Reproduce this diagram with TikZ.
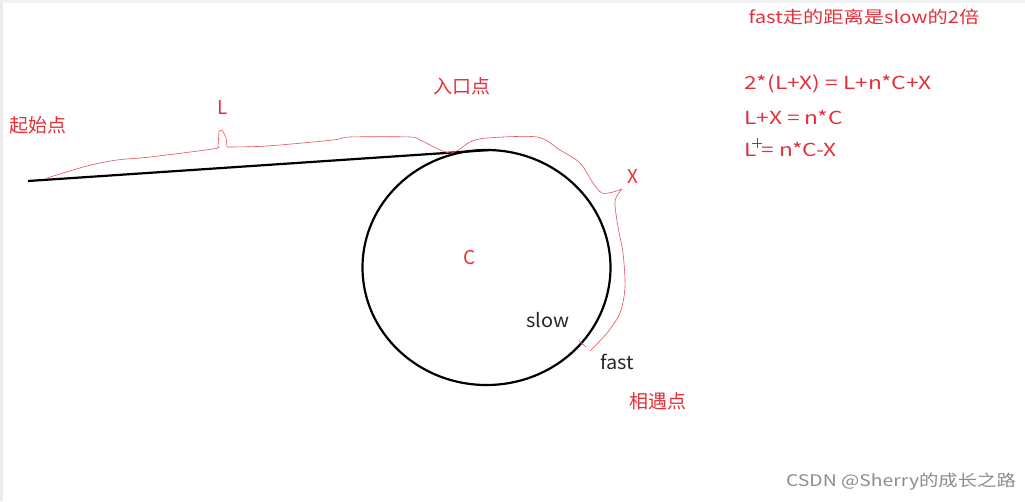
\documentclass[tikz,border=0pt]{standalone}
\usepackage{fontspec}
\setmainfont{Noto Sans CJK SC}
\usepackage{xcolor}
\usepackage{tikz}
\usetikzlibrary{positioning}

\definecolor{penred}{RGB}{226,48,58}
\definecolor{markgray}{RGB}{140,140,140}

% screen text is set a little wider than the font
\newcommand{\widetext}[2]{\scalebox{#1}[1]{#2}}

\tikzset{
    redlabel/.style={text=penred, font=\fontsize{19}{22}\selectfont, inner sep=0pt},
    blacklabel/.style={text=black!85, font=\fontsize{19}{22}\selectfont, inner sep=0pt},
    formula/.style={text=penred, font=\fontsize{18}{21}\selectfont, inner sep=0pt, anchor=west},
    redtrace/.style={draw=penred!85, line width=0.6pt, line join=round}
}

\begin{document}
\begin{tikzpicture}[x=1pt,y=-1pt]
                \useasboundingbox (0,0) rectangle (1025,501);
                \fill[gray!10] (0,0) rectangle (1025,3);
                \fill[gray!15] (0,0) rectangle (3,501);

                % the list and its cycle
                \draw[
                    line width=2.2pt
                    ] (28,181) -- (490,150);

                \draw[
                    line width=2.2pt
                    ] (486.5,267.5) ellipse [x radius=124, y radius=117.5];

                % distance walked by fast
                \draw[redtrace] plot[smooth, tension=0.5] coordinates {
                    (47,178) (87,166) (117,160) (150,157) (213,149) (218,147)};
                \draw[redtrace] (218,147) -- (219,131) -- (222,130) -- (226,137) -- (227,147);
                \draw[redtrace] plot[smooth, tension=0.5] coordinates {
                    (227,147) (267,146) (333,140) (350,137) (410,137) (420,140)
                    (450,153) (470,142) (487,138) (537,137) (560,150) (580,163)
                    (593,183) (602,193) (613,192) (622,189)};
                \draw[redtrace] plot[smooth, tension=0.5] coordinates {
                    (622,189) (615,201) (618,227) (623,253) (625,287) (620,313)
                    (607,333) (590,351)};

                % meeting point tick
                \draw[redtrace] (579,341) -- (586,347);

                % labels
                \node[redlabel] (start) at (38,125) {起始点};
                \node[redlabel] (lenL) at (223,108) {L};
                \node[redlabel] (entry) at (462,86) {入口点};
                \node[redlabel] (lenX) at (633,177) {X};
                \node[redlabel] (lenC) at (470,258) {C};
                \node[blacklabel] (slow) at (548,320) {\widetext{1.05}{slow}};
                \node[blacklabel] (fast) at (617,362) {\widetext{1.05}{fast}};
                \node[redlabel] (meet) at (658,401) {相遇点};

                % reasoning
                \node[text=penred, font=\fontsize{17}{20}\selectfont, inner sep=0pt]
                    (claim) at (864,17) {\widetext{1.19}{fast走的距离是slow的2倍}};
                \node[formula] (eqA) at (744,84) {\widetext{1.26}{2*(L+X) = L+n*C+X}};
                \node[formula] (eqB) at (744,117) {\widetext{1.26}{L+X = n*C}};
                \node[formula] (eqC) at (744,149) {\widetext{1.26}{L = n*C-X}};

                % mouse cursor
                \draw[
                    gray!70!black,
                    line width=0.5pt
                    ] (752,143) -- (762,143) (757,138) -- (757,148);

                \node[text=markgray, font=\fontsize{16}{18}\selectfont, inner sep=0pt]
                    (mark) at (901,482) {\widetext{1.21}{CSDN @Sherry的成长之路}};
            \end{tikzpicture}
\end{document}
